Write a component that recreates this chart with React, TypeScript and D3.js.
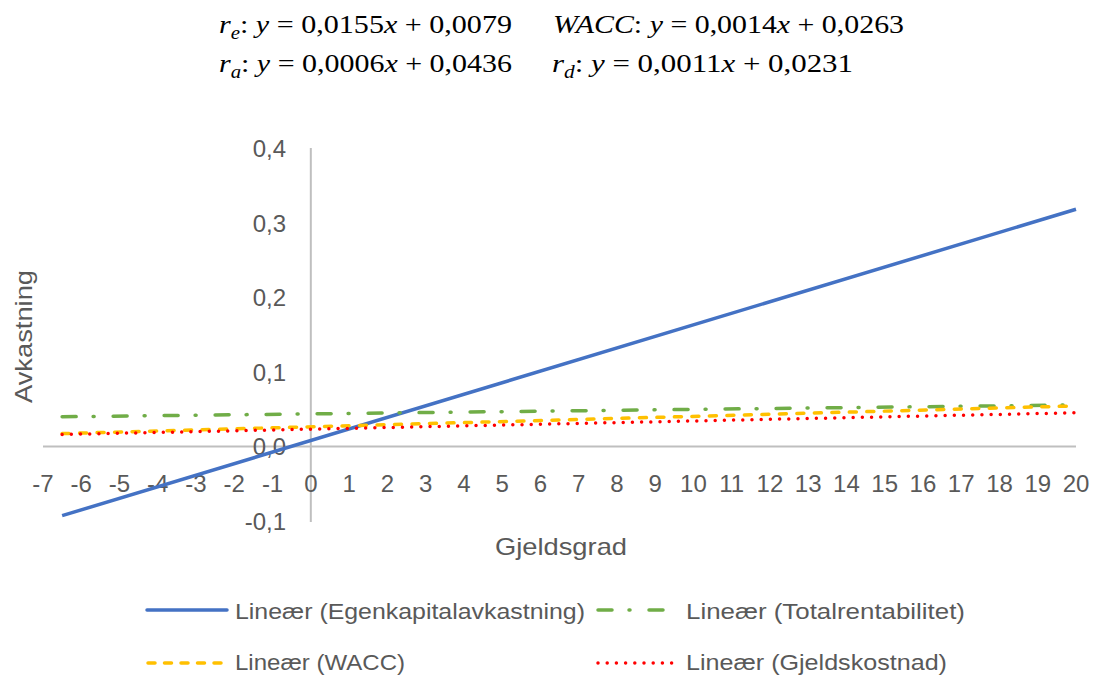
import * as d3 from "d3";

// trend lines: y = slope * x + intercept
const seriesNames = ["Egenkapitalavkastning", "Totalrentabilitet", "WACC", "Gjeldskostnad"];
const seriesKeys = ["e", "a", "WACC", "d"];
const slopes = [0.0155, 0.0006, 0.0014, 0.0011];
const intercepts = [0.0079, 0.0436, 0.0263, 0.0231];
const lineStart = -6.5;
const lineEnd = 20;

const xTicks = d3.range(-7, 21);
const yTicks = [-0.1, 0, 0.1, 0.2, 0.3, 0.4];

const colors = ["#4472C4", "#70AD47", "#FFC000", "#FF0000"];
const dashes = [null, "14 17 1 19", "7 10.5", "0 9.2"];

const W = 1094;
const H = 677;
const grey = "#595959";
const sans = "'Liberation Sans', Arial, sans-serif";

const fmt = (v: number, p: number) => d3.format(`.${p}f`)(v).replace(".", ",").replace("−", "-");

function Equation({ i, x, y, w }: { i: number; x: number; y: number; w: number }) {
  const key = seriesKeys[i];
  return (
    <text
      x={x}
      y={y}
      fontFamily="'Liberation Serif', serif"
      fontSize={26}
      fill="#000"
      textLength={w}
      lengthAdjust="spacingAndGlyphs"
    >
      {key === "WACC" ? (
        <tspan fontStyle="italic">WACC</tspan>
      ) : (
        <>
          <tspan fontStyle="italic">r</tspan>
          <tspan fontStyle="italic" fontSize={18} dy={6}>{key}</tspan>
        </>
      )}
      <tspan dy={key === "WACC" ? 0 : -6}>: </tspan>
      <tspan fontStyle="italic">y</tspan>
      <tspan> = {fmt(slopes[i], 4)}</tspan>
      <tspan fontStyle="italic">x</tspan>
      <tspan> + {fmt(intercepts[i], 4)}</tspan>
    </text>
  );
}

export default function App() {
  const x = d3.scaleLinear().domain([-7, 20]).range([43, 1076]);
  const y = d3.scaleLinear().domain([-0.1, 0.4]).range([521, 148]);

  const legendLine = [
    [147, 227, 610],
    [598, 664, 610],
    [148, 226, 663],
    [598, 675, 663],
  ];
  const legendText = [
    [235, 619, 350],
    [686, 619, 279],
    [235, 670, 170],
    [686, 670, 261],
  ];
  const legendDash = [null, "14 17 1 19", "7 9.5", "0 9.2"];

  return (
    <div style={{ position: "absolute", left: 0, top: 0 }}>
      <svg width={W} height={H} style={{ display: "block", background: "#fff" }}>
        {/* equations */}
        <Equation i={0} x={219} y={33} w={293} />
        <Equation i={2} x={553} y={33} w={351} />
        <Equation i={1} x={219} y={72} w={293} />
        <Equation i={3} x={552} y={72} w={301} />

        {/* axes */}
        <line x1={x(-7)} x2={x(20)} y1={y(0)} y2={y(0)} stroke="#BFBFBF" strokeWidth={2} />
        <line x1={x(0)} x2={x(0)} y1={y(0.4)} y2={y(-0.1) + 1} stroke="#BFBFBF" strokeWidth={2} />

        <g fontFamily={sans} fontSize={24} fill={grey}>
          {xTicks.map((t) => (
            <text key={t} x={x(t)} y={y(0) + 46} textAnchor="middle">
              {fmt(t, 0)}
            </text>
          ))}
          {yTicks.map((t) => (
            <text key={t} x={286} y={y(t) + 9} textAnchor="end">
              {fmt(t, 1)}
            </text>
          ))}
        </g>

        {/* trend lines */}
        {slopes.map((s, i) => {
          const path = d3
            .line<number>()
            .x((d) => x(d))
            .y((d) => y(s * d + intercepts[i]))([lineStart, lineEnd]);
          return (
            <path
              key={i}
              d={path || ""}
              fill="none"
              stroke={colors[i]}
              strokeWidth={3.5}
              strokeDasharray={dashes[i] || undefined}
              strokeLinecap={i === 0 ? "butt" : "round"}
            />
          );
        })}

        {/* axis titles */}
        <text x={495} y={555} fontFamily={sans} fontSize={24} fill={grey} textLength={132} lengthAdjust="spacingAndGlyphs">
          Gjeldsgrad
        </text>
        <text
          transform={`translate(32,403) rotate(-90)`}
          fontFamily={sans}
          fontSize={24}
          fill={grey}
          textLength={133}
          lengthAdjust="spacingAndGlyphs"
        >
          Avkastning
        </text>

        {/* legend */}
        {seriesNames.map((n, i) => {
          const [x1, x2, ly] = legendLine[i];
          const [tx, ty, tw] = legendText[i];
          return (
            <g key={n}>
              <path
                d={`M${x1},${ly}H${x2}`}
                stroke={colors[i]}
                strokeWidth={3.5}
                strokeDasharray={legendDash[i] || undefined}
                strokeLinecap="round"
                fill="none"
              />
              <text
                x={tx}
                y={ty}
                fontFamily={sans}
                fontSize={22}
                fill={grey}
                textLength={tw}
                lengthAdjust="spacingAndGlyphs"
              >
                Lineær ({n})
              </text>
            </g>
          );
        })}
      </svg>
    </div>
  );
}
